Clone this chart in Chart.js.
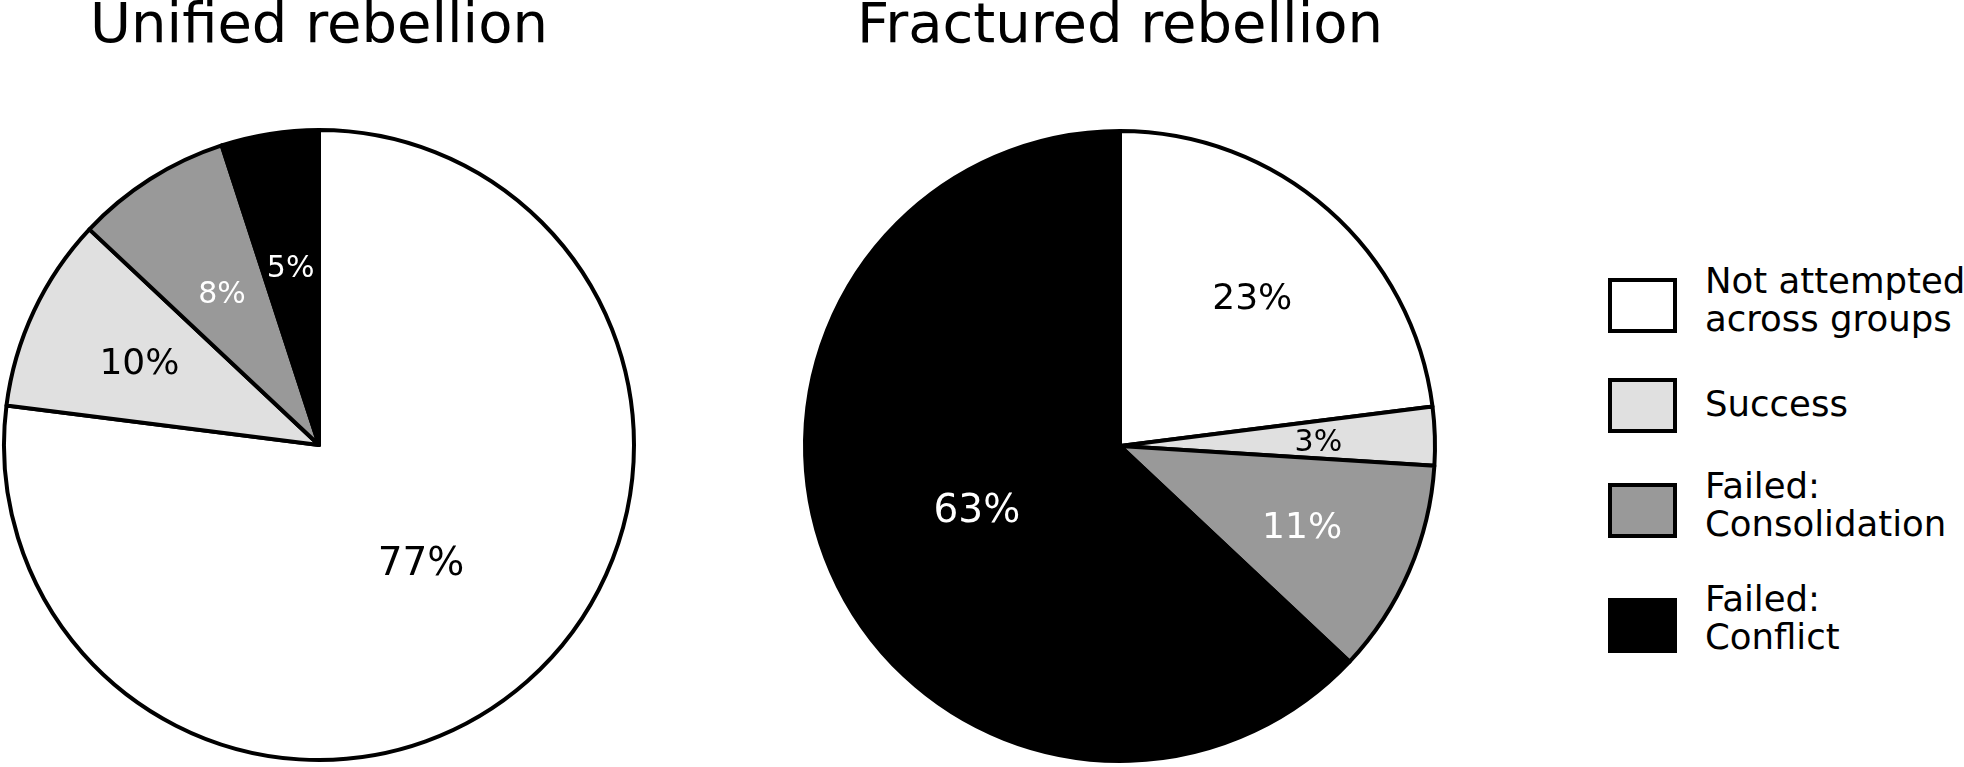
<!DOCTYPE html>
<html>
<head>
<meta charset="utf-8">
<script src="https://cdn.jsdelivr.net/npm/chart.js@4.4.0/dist/chart.umd.min.js"></script>
<style>
  html, body { margin:0; padding:0; background:#fff; width:1964px; height:767px; overflow:hidden; }
  body { position:relative; font-family:"DejaVu Sans", sans-serif; color:#000; }
  .title { position:absolute; width:640px; text-align:center; font-size:56px; line-height:56px; white-space:nowrap; }
  canvas { position:absolute; }
  .lbox { position:absolute; box-sizing:border-box; border:4px solid #000; }
  .ltext { position:absolute; font-size:35.5px; line-height:38.4px; white-space:pre; }
</style>
</head>
<body>
<div class="title" id="t1" style="left:-1px; top:-5px;"></div>
<div class="title" id="t2" style="left:800px; top:-5px;"></div>
<canvas id="c1" width="638" height="640" style="left:0px; top:125px;"></canvas>
<canvas id="c2" width="640" height="640" style="left:800px; top:126px;"></canvas>
<div id="legend"></div>
<script>
// ---- data ----
const categories = ["Not attempted\nacross groups", "Success", "Failed:\nConsolidation", "Failed:\nConflict"];
const chartTitles = ["Unified rebellion", "Fractured rebellion"];
const unifiedValues = [77, 10, 8, 5];
const fracturedValues = [23, 3, 11, 63];

// ---- styles ----
const sliceColors = ["#ffffff", "#e0e0e0", "#999999", "#000000"];
const labelColors = ["#000000", "#000000", "#ffffff", "#ffffff"];
const pieRadius = 315;
// radial position of each percentage label, as a fraction of the radius
const unifiedLabelDist = [0.49, 0.63, 0.575, 0.575];
const fracturedLabelDist = [0.635, 0.63, 0.63, 0.495];

function labelSize(v) { return v >= 50 ? 39 : (v >= 10 ? 36 : 30); }

const pctLabels = {
  id: 'pctLabels',
  afterDatasetsDraw(chart, args, opts) {
    const ctx = chart.ctx;
    const meta = chart.getDatasetMeta(0);
    const vals = chart.data.datasets[0].data;
    meta.data.forEach((arc, i) => {
      const p = arc.getProps(['x', 'y', 'startAngle', 'endAngle', 'outerRadius'], true);
      const mid = (p.startAngle + p.endAngle) / 2;
      const d = opts.dist[i] * p.outerRadius;
      const x = p.x + Math.cos(mid) * d;
      const y = p.y + Math.sin(mid) * d;
      const size = labelSize(vals[i]);
      ctx.save();
      ctx.font = size + 'px "DejaVu Sans"';
      ctx.fillStyle = labelColors[i];
      ctx.textAlign = 'center';
      ctx.textBaseline = 'alphabetic';
      ctx.fillText(vals[i] + '%', x, y + 0.365 * size);
      ctx.restore();
    });
  }
};

function makePie(id, values, dist) {
  return new Chart(document.getElementById(id), {
    type: 'pie',
    data: {
      labels: categories,
      datasets: [{
        data: values,
        backgroundColor: sliceColors,
        borderColor: '#000000',
        borderWidth: 4,
        borderJoinStyle: 'round',
        radius: pieRadius
      }]
    },
    options: {
      responsive: false,
      animation: false,
      events: [],
      layout: { padding: 0 },
      plugins: {
        legend: { display: false },
        tooltip: { enabled: false },
        title: { display: false },
        pctLabels: { dist: dist }
      }
    },
    plugins: [pctLabels]
  });
}

document.getElementById('t1').textContent = chartTitles[0];
document.getElementById('t2').textContent = chartTitles[1];
makePie('c1', unifiedValues, unifiedLabelDist);
makePie('c2', fracturedValues, fracturedLabelDist);

// ---- legend ----
const legendBoxTops = [278, 378, 483, 598];
const legendTextTops = [261.5, 385.3, 466.6, 580];
const legend = document.getElementById('legend');
categories.forEach((c, i) => {
  const b = document.createElement('div');
  b.className = 'lbox';
  b.style.left = '1608px';
  b.style.top = legendBoxTops[i] + 'px';
  b.style.width = '69px';
  b.style.height = '55px';
  b.style.background = sliceColors[i];
  legend.appendChild(b);
  const t = document.createElement('div');
  t.className = 'ltext';
  t.style.left = '1705px';
  t.style.top = legendTextTops[i] + 'px';
  t.textContent = c;
  legend.appendChild(t);
});
</script>
</body>
</html>
